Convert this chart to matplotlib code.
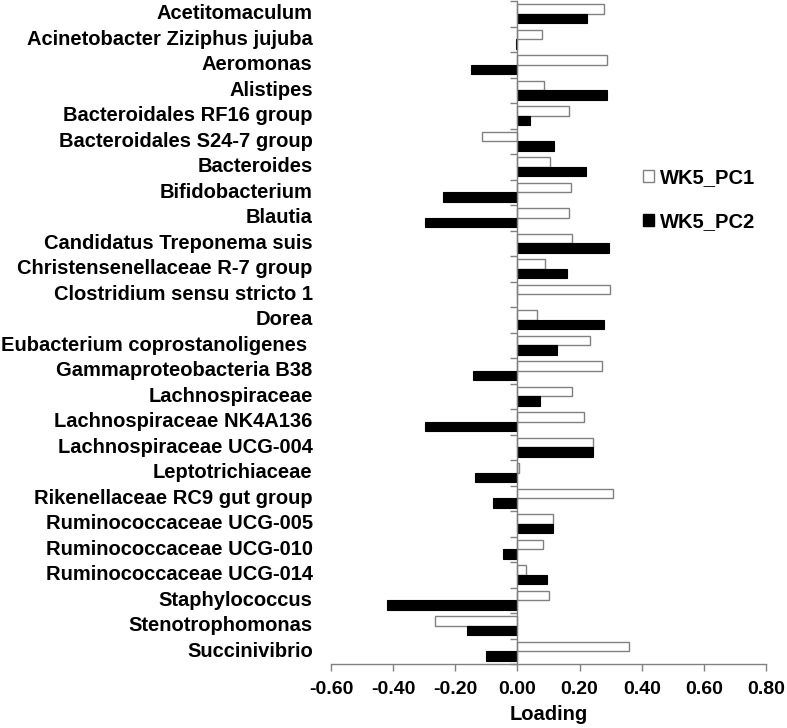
import matplotlib
matplotlib.use("Agg")
import matplotlib.pyplot as plt
import numpy as np
from matplotlib.patches import Patch
from matplotlib.transforms import blended_transform_factory

categories = [
    "Acetitomaculum", "Acinetobacter Ziziphus jujuba", "Aeromonas", "Alistipes",
    "Bacteroidales RF16 group", "Bacteroidales S24-7 group", "Bacteroides",
    "Bifidobacterium", "Blautia", "Candidatus Treponema suis",
    "Christensenellaceae R-7 group", "Clostridium sensu stricto 1", "Dorea",
    "Eubacterium coprostanoligenes ", "Gammaproteobacteria B38", "Lachnospiraceae",
    "Lachnospiraceae NK4A136", "Lachnospiraceae UCG-004", "Leptotrichiaceae",
    "Rikenellaceae RC9 gut group", "Ruminococcaceae UCG-005",
    "Ruminococcaceae UCG-010", "Ruminococcaceae UCG-014", "Staphylococcus",
    "Stenotrophomonas", "Succinivibrio",
]
wk5_pc1 = [0.278, 0.078, 0.289, 0.085, 0.167, -0.114, 0.105,
           0.171, 0.165, 0.176, 0.089, 0.298, 0.062, 0.234,
           0.273, 0.176, 0.213, 0.244, 0.004, 0.309,
           0.113, 0.083, 0.028, 0.103, -0.266, 0.358]
wk5_pc2 = [0.223, -0.005, -0.149, 0.287, 0.041, 0.119, 0.221,
           -0.238, -0.296, 0.295, 0.160, -0.002, 0.278, 0.128,
           -0.144, 0.074, -0.297, 0.242, -0.135, -0.078,
           0.114, -0.048, 0.094, -0.420, -0.162, -0.101]
series_names = ["WK5_PC1", "WK5_PC2"]
xticks = [-0.6, -0.4, -0.2, 0.0, 0.2, 0.4, 0.6, 0.8]

plt.rcParams['font.family'] = ['Liberation Sans', 'DejaVu Sans']
plt.rcParams['font.weight'] = 'bold'

fig = plt.figure(figsize=(7.87, 7.28), dpi=100)
ax = fig.add_axes([331/787, 1 - 664/728, 435/787, 663/728])

y = np.arange(len(categories))
h = 0.365
gray = '#808080'
ax.barh(y - h/2, wk5_pc1, height=h, color='white', edgecolor=gray, linewidth=1.0)
ax.barh(y + h/2, wk5_pc2, height=h, color='black', edgecolor='black', linewidth=0.8)

ax.set_xlim(-0.6, 0.8)
ax.set_ylim(len(categories) - 0.5, -0.5)

ax.spines['top'].set_visible(False)
ax.spines['right'].set_visible(False)
ax.spines['left'].set_position(('data', 0))
for s in ('left', 'bottom'):
    ax.spines[s].set_color(gray)
    ax.spines[s].set_linewidth(1.0)

ax.set_yticks(np.arange(len(categories) + 1) - 0.5)
ax.set_yticklabels([])
ax.tick_params(axis='y', direction='out', length=5, color=gray, width=1)

ax.set_xticks(xticks)
ax.set_xticklabels([f"{v:.2f}" for v in xticks], fontsize=14, fontweight='bold')
ax.tick_params(axis='x', direction='out', length=5, color=gray, width=1, pad=7)
ax.set_xlabel("Loading", fontsize=14.5, fontweight='bold', labelpad=5)

trans = blended_transform_factory(ax.transAxes, ax.transData)
for yi, name in zip(y, categories):
    ax.text(-18.3/435, yi, name, transform=trans, ha='right', va='center',
            fontsize=14.5, fontweight='bold')

handles = [Patch(facecolor='white', edgecolor=gray, linewidth=1.0),
           Patch(facecolor='black', edgecolor='black')]
fig.legend(handles, series_names, loc='center left',
           bbox_to_anchor=(643/787, 1 - 199.5/728), frameon=False,
           prop={'size': 14.5, 'weight': 'bold'}, handlelength=0.55,
           handleheight=0.55, handletextpad=0.3, labelspacing=1.25, borderpad=0,
           borderaxespad=0)

fig.savefig("out.png", dpi=100)
